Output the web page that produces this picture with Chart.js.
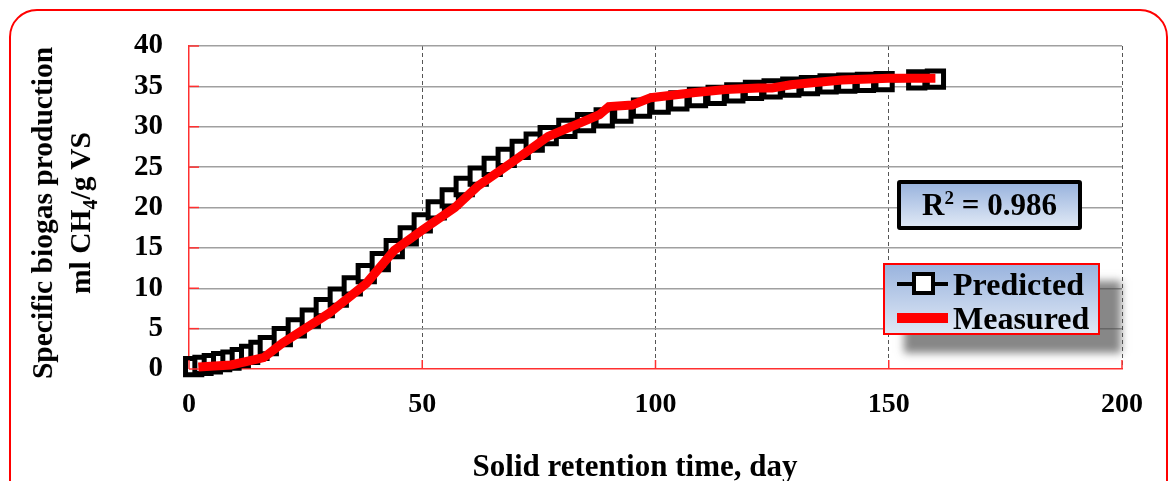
<!DOCTYPE html>
<html lang="en">
<head>
  <meta charset="UTF-8">
  <title>Specific biogas production</title>
  <script src="https://cdn.jsdelivr.net/npm/chart.js"></script>
  <style>
    body {
      margin: 0;
      background: #fff;
      font-family: 'Liberation Serif', 'Times New Roman', serif;
      overflow: hidden;
    }
    #wrap { position: relative; width: 1169px; height: 481px; }
    #frame {
      position: absolute; left: 9px; top: 9px;
      width: 1155px; height: 495px;
      border: 2px solid #f00; border-radius: 28px;
    }
    canvas { position: absolute; left: 0; top: 0; }
    .lbl { position: absolute; font-weight: bold; color: #000; white-space: nowrap; }
    #ytitle {
      left: 66px; top: 213px; width: 420px;
      font-size: 29.5px; line-height: 38px; text-align: center;
      transform: translate(-50%, -50%) rotate(-90deg);
    }
    #xtitle { left: 635px; top: 466px; font-size: 31px; transform: translate(-50%, -50%); }
    .box { background: linear-gradient(to bottom, #9ab4de, #dfe8f5); }
    #r2 {
      left: 897px; top: 180px; width: 177px; height: 42px;
      border: 4px solid #000; border-radius: 3px;
      font-size: 31px; line-height: 42px; text-align: center;
    }
    #r2 sup { font-size: 19px; vertical-align: 11px; line-height: 0; }
    #legend {
      left: 883px; top: 263px; width: 213px; height: 68px;
      border: 2px solid #f00;
      box-shadow: 21px 18px 8px rgba(70,70,70,0.65);
    }
    .row { position: absolute; left: 0; height: 36px; width: 100%; }
    .row span { position: absolute; left: 68px; top: 0; font-size: 32px; line-height: 36px; font-weight: bold; }
    .sym-line { position: absolute; left: 12px; width: 51px; top: 16px; height: 4px; background: #000; }
    .sym-sq { position: absolute; left: 27px; top: 6px; width: 15px; height: 15px; border: 4px solid #000; background: #fff; }
    .sym-red { position: absolute; left: 12px; width: 51px; top: 13px; height: 10px; background: #f00; }
  </style>
</head>
<body>
<div id="wrap">
  <div id="frame"></div>
  <canvas id="chart" width="1169" height="481"></canvas>
  <div id="ytitle" class="lbl">Specific biogas production<br>ml CH<sub style="font-size:20px">4</sub>/g VS</div>
  <div id="xtitle" class="lbl">Solid retention time, day</div>
  <div id="r2" class="lbl box">R<sup>2</sup> = 0.986</div>
  <div id="legend" class="lbl box">
    <div class="row" style="top:1px"><div class="sym-line"></div><div class="sym-sq"></div><span>Predicted</span></div>
    <div class="row" style="top:35px"><div class="sym-red"></div><span>Measured</span></div>
  </div>
</div>

<script>
  // predicted (model) values
  const predDays = [1, 3, 5, 7, 9, 11, 13, 15, 17, 20, 23, 26, 29, 32, 35, 38, 41, 44, 47, 50,
    53, 56, 59, 62, 65, 68, 71, 74, 77, 81, 85, 89, 93, 97, 101, 105, 109, 113, 117, 121,
    125, 129, 133, 137, 141, 145, 149, 156, 160];
  const predVals = [0.3, 0.45, 0.65, 0.9, 1.1, 1.4, 1.8, 2.3, 2.9, 4.0, 5.1, 6.3, 7.6, 8.9, 10.3, 11.8, 13.3, 14.9, 16.5, 18.1,
    19.7, 21.2, 22.6, 23.9, 25.1, 26.2, 27.2, 28.1, 28.9, 29.8, 30.5, 31.1, 31.7, 32.3, 32.8, 33.2, 33.6, 33.9, 34.2, 34.5,
    34.7, 34.9, 35.1, 35.3, 35.4, 35.5, 35.6, 35.8, 35.9];

  // measured values
  const measDays = [2, 9, 16, 20, 30, 38, 44, 50, 57, 62, 69, 77, 84, 88, 90, 95, 99, 108, 115, 122, 125, 129, 140, 150, 160];
  const measVals = [0.25, 0.5, 1.4, 3.2, 6.9, 10.6, 14.7, 17.2, 20.0, 22.7, 25.5, 28.8, 30.5, 31.5, 32.5, 32.7, 33.6, 34.2, 34.6, 34.8, 34.8, 35.2, 35.8, 36.0, 36.0];

  const xTicks = [0, 50, 100, 150, 200];
  const yTicks = [0, 5, 10, 15, 20, 25, 30, 35, 40];

  const toPts = (xs, ys) => xs.map((x, i) => ({ x: x, y: ys[i] }));
  const yFont = { family: "'Liberation Serif', serif", size: 29, weight: 'bold' };
  const xFont = { family: "'Liberation Serif', serif", size: 28, weight: 'bold' };

  // small red tick marks pointing into the plot
  const innerTicks = {
    id: 'innerTicks',
    afterDraw(chart) {
      const c = chart.ctx, xs = chart.scales.x, ys = chart.scales.y;
      c.save();
      c.strokeStyle = '#ff3030';
      c.lineWidth = 1.5;
      yTicks.forEach(v => {
        const y = ys.getPixelForValue(v);
        c.beginPath(); c.moveTo(xs.left, y); c.lineTo(xs.left + 10, y); c.stroke();
      });
      xTicks.forEach(v => {
        const x = xs.getPixelForValue(v);
        c.beginPath(); c.moveTo(x, ys.bottom); c.lineTo(x, ys.bottom - 9); c.stroke();
      });
      c.restore();
    }
  };

  new Chart(document.getElementById('chart'), {
    type: 'scatter',
    data: {
      datasets: [
        {
          label: 'Predicted',
          data: toPts(predDays, predVals),
          showLine: true,
          borderColor: '#000',
          borderWidth: 3,
          pointStyle: 'rect',
          pointRadius: 11.5,
          pointBorderWidth: 5,
          pointBackgroundColor: '#fff',
          pointBorderColor: '#000',
          clip: false,
          order: 2
        },
        {
          label: 'Measured',
          data: toPts(measDays, measVals),
          showLine: true,
          borderColor: '#f00',
          borderWidth: 9,
          pointRadius: 0,
          tension: 0,
          clip: false,
          order: 1
        }
      ]
    },
    options: {
      responsive: false,
      animation: false,
      layout: { padding: { top: 46, right: 47, left: 0, bottom: 0 } },
      plugins: { legend: { display: false }, tooltip: { enabled: false } },
      scales: {
        x: {
          type: 'linear', min: 0, max: 200,
          afterFit: s => { s.height = 112; },
          afterBuildTicks: s => { s.ticks = xTicks.map(v => ({ value: v })); },
          ticks: { color: '#000', font: xFont, padding: 19, maxRotation: 0 },
          border: { color: '#ff3030', width: 1.5, dash: [4, 3] },
          grid: {
            drawTicks: false,
            color: ctx => ctx.tick.value === 0 ? 'rgba(0,0,0,0)' : '#555',
            lineWidth: 1
          }
        },
        y: {
          min: 0, max: 40,
          afterFit: s => { s.width = 189; },
          afterBuildTicks: s => { s.ticks = yTicks.map(v => ({ value: v })); },
          ticks: { color: '#000', font: yFont, padding: 26 },
          border: { color: '#ff3030', width: 1.5 },
          grid: {
            drawTicks: false,
            color: ctx => ctx.tick.value === 0 ? 'rgba(0,0,0,0)' : '#a0a0a0',
            lineWidth: 1.5
          }
        }
      }
    },
    plugins: [innerTicks]
  });
</script>
</body>
</html>
